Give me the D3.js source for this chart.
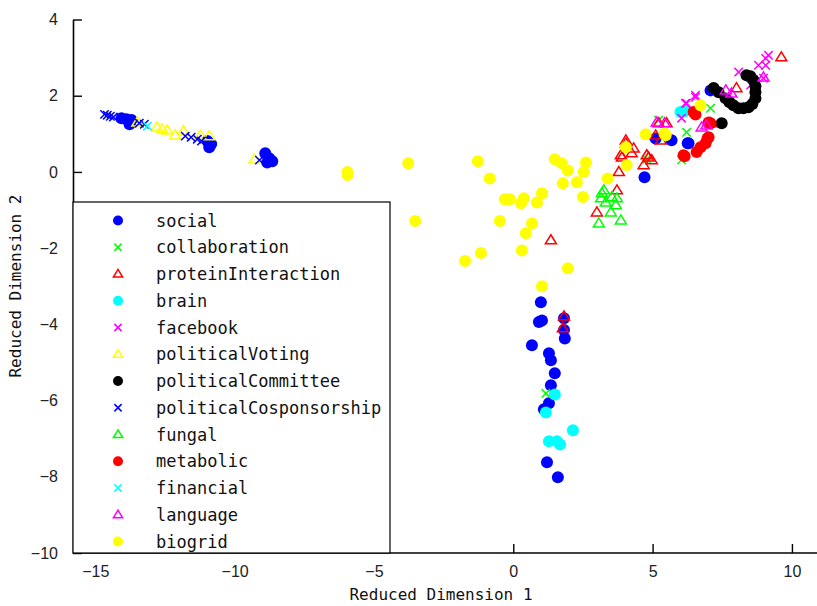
<!DOCTYPE html>
<html>
<head>
<meta charset="utf-8">
<script src="https://cdn.jsdelivr.net/npm/d3@7"></script>
<style>
  html, body { margin: 0; padding: 0; background: #fff; }
  svg { display: block; }
</style>
</head>
<body>
<svg id="chart" width="817" height="606"></svg>
<script>
// Reduced-dimension embedding of network families, one array per family: [dim1, dim2]
const social = [
  [-14.06, 1.41], [-13.88, 1.38], [-13.70, 1.36], [-13.77, 1.25],
  [-10.98, 0.81], [-10.84, 0.73], [-10.91, 0.65],
  [-8.90, 0.49], [-8.76, 0.36], [-8.65, 0.28], [-8.83, 0.25],
  [0.99, -3.42], [1.03, -3.90], [0.92, -3.94], [0.67, -4.55], [1.28, -4.76],
  [1.35, -4.94], [1.49, -5.28], [1.35, -5.60], [1.28, -6.07], [1.10, -6.23],
  [1.21, -7.62], [1.60, -8.01], [1.82, -3.84], [1.85, -4.37], [1.82, -4.15],
  [5.11, 0.88], [5.68, 0.83], [6.29, 0.75], [4.71, -0.14], [6.26, 0.75], [7.08, 2.14]
];
const collaboration = [
  [1.17, -5.81], [6.22, 1.04], [5.22, 1.36], [4.79, 0.33], [6.04, 0.31], [7.08, 1.67]
];
const proteinInteraction = [
  [1.82, -3.79], [1.78, -4.10], [1.35, -1.79],
  [3.00, -1.06], [3.79, 0.00], [3.72, -0.48], [3.86, 0.44], [4.04, 0.75],
  [4.04, 0.83], [4.32, 0.62], [4.25, 0.49], [4.86, 0.38], [4.97, 0.31],
  [5.22, 1.28], [5.50, 1.28], [5.29, 0.83], [5.11, 0.96],
  [3.90, 0.38], [4.79, 0.44], [4.68, 0.18], [9.62, 3.01], [8.01, 2.20], [7.08, 1.28]
];
const brain = [
  [1.49, -5.84], [1.17, -6.31], [1.28, -7.07], [1.57, -7.07], [1.68, -7.15], [2.14, -6.78],
  [6.00, 1.57], [6.15, 1.59]
];
const facebook = [
  [6.04, 1.41], [6.18, 1.80], [6.54, 2.01], [6.54, 1.96], [6.22, 1.80],
  [8.09, 2.62], [8.52, 2.28], [9.06, 2.98], [9.06, 2.80], [9.16, 3.06],
  [8.98, 2.46], [8.80, 2.80]
];
const politicalVoting = [
  [-13.49, 1.30], [-12.78, 1.17], [-12.60, 1.12], [-12.42, 1.09],
  [-12.13, 0.96], [-11.84, 1.07], [-11.23, 0.96], [-10.91, 0.94], [-9.29, 0.33]
];
const politicalCommittee = [
  [7.19, 2.20], [7.37, 2.09], [7.62, 1.93], [7.76, 1.83], [7.90, 1.75], [8.08, 1.67],
  [8.26, 1.67], [8.44, 1.70], [8.58, 1.78], [8.69, 1.93], [8.69, 2.09], [8.69, 2.25],
  [8.62, 2.41], [8.51, 2.51], [8.37, 2.54], [7.48, 1.28]
];
const politicalCosponsorship = [
  [-14.67, 1.51], [-14.57, 1.49], [-14.46, 1.46], [-14.35, 1.44],
  [-13.42, 1.28], [-13.24, 1.25],
  [-11.77, 0.94], [-11.56, 0.91], [-11.34, 0.86], [-11.19, 0.81], [-9.11, 0.31]
];
const fungal = [
  [3.25, -0.48], [3.15, -0.69], [3.32, -0.80], [3.54, -0.66], [3.72, -0.69],
  [3.50, -1.06], [3.86, -1.27], [3.07, -1.35], [3.18, -0.56], [3.68, -0.87]
];
const metabolic = [
  [6.47, 1.57], [6.54, 1.51], [7.01, 1.30], [7.01, 0.91], [6.11, 0.44],
  [6.58, 0.52], [6.72, 0.65], [6.90, 0.75], [6.97, 0.88], [7.08, 1.28], [6.15, 0.41]
];
const financial = [
  [-13.13, 1.20]
];
const language = [
  [5.15, 1.30], [5.43, 1.28], [7.63, 2.14], [7.83, 2.06], [8.98, 2.48],
  [6.76, 1.17], [6.93, 1.22]
];
const biogrid = [
  [-5.95, 0.00], [-5.95, -0.08], [-3.77, 0.23], [-3.52, -1.29], [-1.27, 0.28],
  [-0.84, -0.17], [-0.30, -0.72], [-0.12, -0.72], [-0.48, -1.29], [0.28, -0.82],
  [0.38, -0.69], [0.67, -1.35], [0.45, -1.61], [0.31, -2.06], [-1.16, -2.13],
  [-1.73, -2.34], [0.85, -0.80], [1.03, -0.56], [1.49, 0.33], [1.74, 0.23],
  [1.96, 0.04], [1.78, -0.30], [2.28, -0.27], [2.61, 0.25], [2.53, 0.00],
  [2.50, -0.66], [1.96, -2.53], [1.03, -3.00], [4.04, 0.65], [4.07, 0.18],
  [3.39, -0.17], [4.75, 0.99], [5.43, 1.01], [6.72, 1.75], [5.47, 0.96]
];

const seriesNames = [
  "social", "collaboration", "proteinInteraction", "brain", "facebook",
  "politicalVoting", "politicalCommittee", "politicalCosponsorship", "fungal",
  "metabolic", "financial", "language", "biogrid"
];
const seriesData = [
  social, collaboration, proteinInteraction, brain, facebook,
  politicalVoting, politicalCommittee, politicalCosponsorship, fungal,
  metabolic, financial, language, biogrid
];
const seriesColors = [
  "#0000ff", "#00ff00", "#ff0000", "#00ffff", "#ff00ff",
  "#ffff00", "#000000", "#0000ff", "#00ff00",
  "#ff0000", "#00ffff", "#ff00ff", "#ffff00"
];
const seriesShapes = [
  "dot", "x", "tri", "dot", "x",
  "tri", "dot", "x", "tri",
  "dot", "x", "tri", "dot"
];

const xTicks = [-15, -10, -5, 0, 5, 10];
const yTicks = [-10, -8, -6, -4, -2, 0, 2, 4];
const xLabel = "Reduced Dimension 1";
const yLabel = "Reduced Dimension 2";

const svg = d3.select("#chart");
const plotLeft = 73, plotRight = 817, plotTop = 19.5, plotBottom = 553;

const x = d3.scaleLinear().domain([-15.8, 10.9]).range([plotLeft, plotRight]);
const y = d3.scaleLinear().domain([-10, 4]).range([plotBottom, plotTop]);

const tickFmt = v => (v < 0 ? "\u2212" + Math.abs(v) : String(v));

// Marker paths centred at (0,0)
function markerPath(shape, s) {
  if (shape === "dot") {
    return d3.symbol().type(d3.symbolCircle).size(Math.PI * s * s)();
  }
  if (shape === "x") {
    return `M${-s},${-s}L${s},${s}M${-s},${s}L${s},${-s}`;
  }
  // upward open triangle
  const h = s * 1.8, w = s * 1.1;
  return `M0,${-h * 0.6}L${w},${h * 0.4}L${-w},${h * 0.4}Z`;
}

function drawMarkers(g, data, shape, color) {
  const size = shape === "dot" ? 6 : shape === "x" ? 4.2 : 5;
  const sel = g.selectAll(null).data(data).join("path")
    .attr("transform", d => `translate(${x(d[0])},${y(d[1])})`)
    .attr("d", markerPath(shape, size));
  if (shape === "dot") {
    sel.attr("fill", color).attr("stroke", "none");
  } else {
    sel.attr("fill", "none").attr("stroke", color).attr("stroke-width", 1.5);
  }
}

// Points
const plot = svg.append("g");
seriesData.forEach((data, i) => {
  drawMarkers(plot.append("g"), data, seriesShapes[i], seriesColors[i]);
});

// Axes (left and bottom only, ticks pointing inward)
const axisFont = "'Liberation Sans', Arial, sans-serif";
const xAxis = d3.axisBottom(x).tickValues(xTicks).tickSizeInner(-9).tickSizeOuter(0)
  .tickPadding(13).tickFormat(tickFmt);
const yAxis = d3.axisLeft(y).tickValues(yTicks).tickSizeInner(-9).tickSizeOuter(0)
  .tickPadding(15).tickFormat(tickFmt);

const gx = svg.append("g").attr("transform", `translate(0,${plotBottom})`).call(xAxis);
const gy = svg.append("g").attr("transform", `translate(${plotLeft},0)`).call(yAxis);
[gx, gy].forEach(g => {
  g.select(".domain").attr("stroke", "#000").attr("stroke-width", 1.6);
  g.selectAll(".tick line").attr("stroke", "#000").attr("stroke-width", 1.4);
  g.selectAll(".tick text").attr("fill", "#222")
    .style("font-family", axisFont).style("font-size", "16px");
});
gx.select(".domain").attr("d", `M${plotLeft},0H${plotRight}`);

// Axis titles
const monoFont = "'DejaVu Sans Mono', 'Liberation Mono', monospace";
svg.append("text")
  .attr("x", 441).attr("y", 600)
  .attr("text-anchor", "middle")
  .style("font-family", monoFont).style("font-size", "16px").attr("fill", "#111")
  .text(xLabel);
svg.append("text")
  .attr("transform", `translate(21,286) rotate(-90)`)
  .attr("text-anchor", "middle")
  .style("font-family", monoFont).style("font-size", "16px").attr("fill", "#111")
  .text(yLabel);

// Legend
const legend = svg.append("g");
legend.append("rect")
  .attr("x", plotLeft).attr("y", 202).attr("width", 390 - plotLeft).attr("height", plotBottom - 202)
  .attr("fill", "#fff").attr("stroke", "#000").attr("stroke-width", 1.2);
seriesNames.forEach((name, i) => {
  const cy = 220.5 + i * 26.75;
  const shape = seriesShapes[i];
  legend.append("path")
    .attr("transform", `translate(118,${cy})`)
    .attr("d", markerPath(shape, shape === "dot" ? 5 : shape === "x" ? 3.6 : 4.2))
    .attr("fill", shape === "dot" ? seriesColors[i] : "none")
    .attr("stroke", shape === "dot" ? "none" : seriesColors[i])
    .attr("stroke-width", 1.5);
  legend.append("text")
    .attr("x", 156).attr("y", cy + 6)
    .style("font-family", monoFont).style("font-size", "17px").attr("fill", "#111")
    .text(name);
});
</script>
</body>
</html>
